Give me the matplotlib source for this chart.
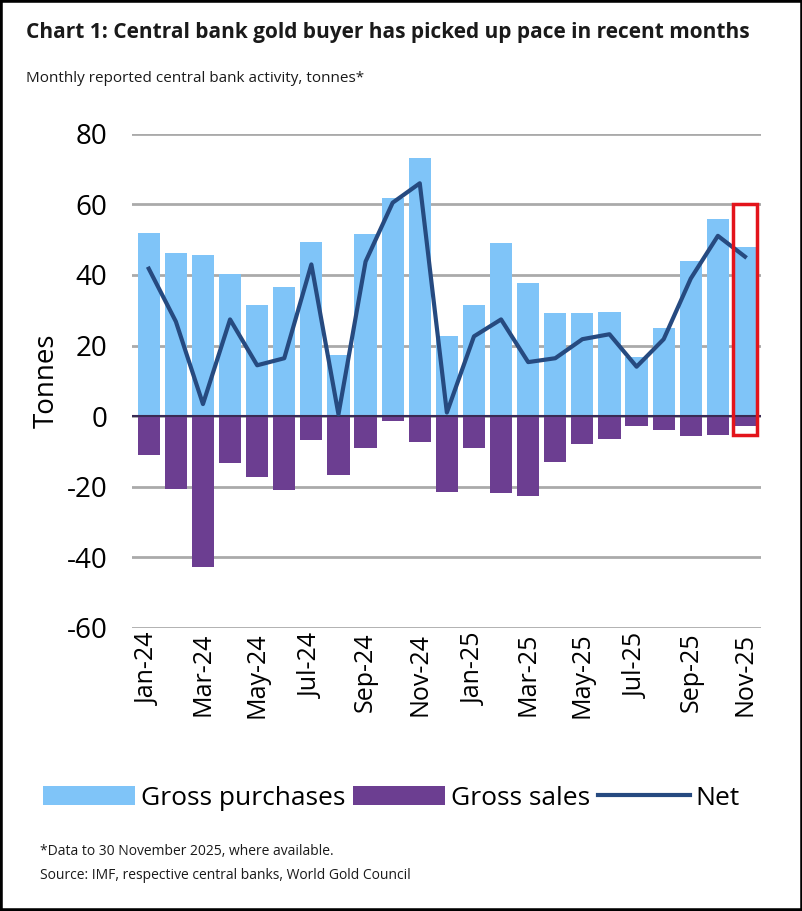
import numpy as np
import matplotlib
matplotlib.use("Agg")
import matplotlib.pyplot as plt
from matplotlib.patches import Rectangle

plt.rcParams['font.family'] = ['Open Sans', 'DejaVu Sans']
plt.rcParams['axes.unicode_minus'] = False

months = ['Jan-24', 'Feb-24', 'Mar-24', 'Apr-24', 'May-24', 'Jun-24', 'Jul-24', 'Aug-24',
          'Sep-24', 'Oct-24', 'Nov-24', 'Dec-24', 'Jan-25', 'Feb-25', 'Mar-25', 'Apr-25',
          'May-25', 'Jun-25', 'Jul-25', 'Aug-25', 'Sep-25', 'Oct-25', 'Nov-25']
purchases = [52.0, 46.3, 45.8, 40.4, 31.4, 36.7, 49.4, 17.2, 51.7, 61.9, 73.2, 22.6,
             31.4, 49.2, 37.6, 29.1, 29.1, 29.4, 16.7, 25.0, 44.0, 56.0, 48.0]
sales = [-11.0, -20.6, -42.7, -13.3, -17.2, -20.9, -6.8, -16.7, -9.0, -1.4, -7.3, -21.5,
         -9.0, -21.8, -22.6, -13.0, -7.9, -6.5, -2.8, -4.0, -5.6, -5.4, -2.8]
net = [41.8, 26.8, 3.4, 27.4, 14.4, 16.4, 43.0, 0.5, 43.8, 60.5, 66.0, 1.0,
       22.6, 27.4, 15.3, 16.4, 21.8, 23.2, 14.0, 21.8, 39.0, 51.1, 45.2]

fig = plt.figure(figsize=[8.03, 9.11], dpi=100)
ax = fig.add_axes([0.165, 0.311, 0.783, 0.542])
x = np.arange(len(months))
b1 = ax.bar(x, purchases, width=0.82, color='#7fc4f8', zorder=2)
b2 = ax.bar(x, sales, width=0.82, color='#6c3e91', zorder=2)
l1, = ax.plot(x, net, color='#264a80', lw=3, zorder=3)

ax.set_ylim(-60, 80)
ax.set_xlim(-0.6, len(months) - 0.4)
ax.set_yticks(np.arange(-60, 81, 20))
ax.grid(axis='y', color='#aaaaaa', lw=2, zorder=0)
ax.axhline(0, color='#3a2a55', lw=1.5, zorder=2.5)
for s in ax.spines.values():
    s.set_visible(False)
ax.tick_params(length=0, labelsize=20)
ax.tick_params(axis='y', pad=18)
ax.set_xticks(x[::2])
ax.set_xticklabels(months[::2], rotation=90, fontsize=18)
ax.set_ylabel('Tonnes', fontsize=20)

ax.add_patch(Rectangle((21.55, -5.5), 0.9, 65.5, fill=False, ec='#e3141b', lw=2.5,
                       zorder=4, clip_on=False))

ax.legend([b1, b2, l1], ['Gross purchases', 'Gross sales', 'Net'],
          loc='center left', bbox_to_anchor=(-0.18, -0.345), ncol=3, frameon=False,
          fontsize=19, handlelength=3.5, columnspacing=0.3, handletextpad=0.2)

fig.text(0.033, 0.958, 'Chart 1: Central bank gold buyer has picked up pace in recent months',
         fontsize=15, fontweight='bold', color='#1a1a1a')
fig.text(0.033, 0.91, 'Monthly reported central bank activity, tonnes*', fontsize=11, color='#1a1a1a')
fig.text(0.05, 0.062, '*Data to 30 November 2025, where available.', fontsize=10, color='#1a1a1a')
fig.text(0.05, 0.035, 'Source: IMF, respective central banks, World Gold Council', fontsize=10,
         color='#1a1a1a')
fig.patches.append(Rectangle((0, 0), 1, 1, transform=fig.transFigure, fill=False,
                             ec='black', lw=4))
fig.savefig('out.png', dpi=100)
